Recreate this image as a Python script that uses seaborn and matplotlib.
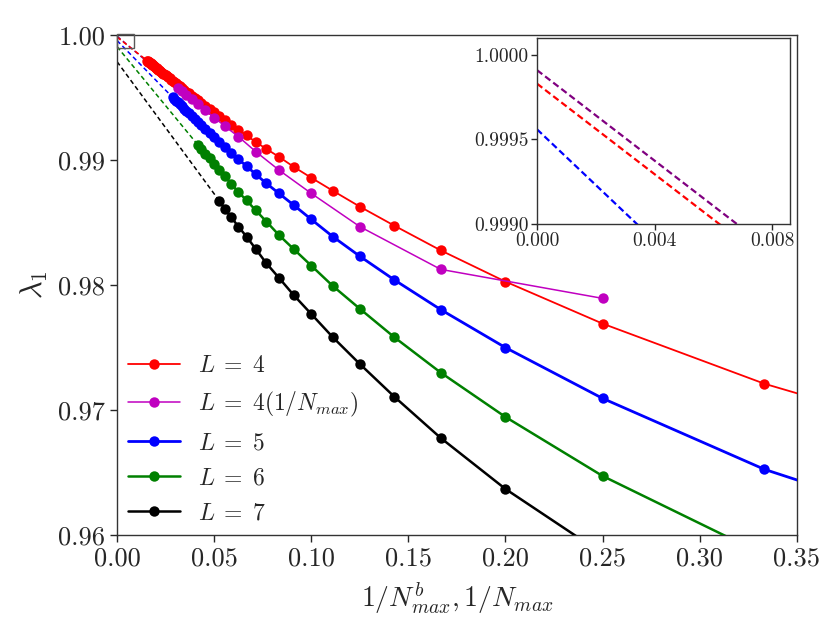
import numpy as np
import matplotlib
matplotlib.use("Agg")
import matplotlib.pyplot as plt
from matplotlib.ticker import FormatStrFormatter
import seaborn as sns

# ---------------- data ----------------
# L = 4 (1/N^b_max), N_max = 2 .. 64
N_L4 = list(range(2, 65))
lam_L4 = [0.9645, 0.97210, 0.97691, 0.98027, 0.98277, 0.98474, 0.98627, 0.98754,
          0.98858, 0.98946, 0.99026, 0.99088, 0.99144, 0.99197, 0.99243, 0.99283,
          0.99319, 0.99352, 0.99382, 0.99409, 0.99434, 0.99457, 0.99478, 0.99498,
          0.99516, 0.99533, 0.99548, 0.99563, 0.99577, 0.99590, 0.99602, 0.99613,
          0.99624, 0.99634, 0.99644, 0.99653, 0.99662, 0.99670, 0.99678, 0.99685,
          0.99692, 0.99699, 0.99706, 0.99712, 0.99718, 0.99724, 0.99729, 0.99735,
          0.99740, 0.99745, 0.99749, 0.99754, 0.99758, 0.99762, 0.99766, 0.99770,
          0.99774, 0.99778, 0.99781, 0.99785, 0.99788, 0.99791, 0.99794]
# L = 4 (1/N_max), even N_max = 4 .. 32
N_L4b = list(range(4, 33, 2))
lam_L4b = [0.97893, 0.98125, 0.98467, 0.98733, 0.98920, 0.99067, 0.99187, 0.99270,
           0.99340, 0.99398, 0.99446, 0.99487, 0.99522, 0.99553, 0.99580]
# L = 5, N_max = 2 .. 35
N_L5 = list(range(2, 36))
lam_L5 = [0.9568, 0.96525, 0.97093, 0.97499, 0.97803, 0.98040, 0.98230, 0.98387,
          0.98525, 0.98640, 0.98733, 0.98813, 0.98885, 0.98952, 0.99005, 0.99058,
          0.99104, 0.99146, 0.99184, 0.99218, 0.99249, 0.99278, 0.99305, 0.99330,
          0.99353, 0.99374, 0.99394, 0.99412, 0.99429, 0.99446, 0.99461, 0.99475,
          0.99489, 0.99502]
# L = 6, N_max = 3 .. 24
N_L6 = list(range(3, 25))
lam_L6 = [0.9584, 0.96472, 0.96944, 0.97299, 0.97581, 0.97810, 0.97992, 0.98155,
          0.98288, 0.98400, 0.98507, 0.98597, 0.98677, 0.98744, 0.98808, 0.98872,
          0.98924, 0.98970, 0.99013, 0.99052, 0.99087, 0.99120]
# L = 7, N_max = 3 .. 19
N_L7 = list(range(3, 20))
lam_L7 = [0.9510, 0.9585, 0.96368, 0.96776, 0.97105, 0.97368, 0.97582, 0.97768,
          0.97920, 0.98058, 0.98173, 0.98288, 0.98387, 0.98467, 0.98541, 0.98608,
          0.98674]

labels = [r"$L\;=\;4$", r"$L\;=\;4(1/N_{max})$", r"$L\;=\;5$", r"$L\;=\;6$", r"$L\;=\;7$"]
# extrapolated values at 1/N -> 0 and slopes of the fits (inset)
extrap = [0.99983, 0.99991, 0.99956, 0.99907, 0.99787]
fit_slope = [-0.134, -0.134, -0.165, -0.19, -0.21]

# ---------------- style ----------------
sns.set_theme(style="ticks")
plt.rcParams["font.family"] = ["cmr10", "DejaVu Serif"]
plt.rcParams["mathtext.fontset"] = "cm"
plt.rcParams["axes.unicode_minus"] = False
plt.rcParams["axes.formatter.use_mathtext"] = True

fig = plt.figure(figsize=(8.3, 6.23), dpi=100)
ax = fig.add_axes([0.141, 0.1413, 0.819, 0.8025])

Ns = [N_L4, N_L4b, N_L5, N_L6, N_L7]
lams = [lam_L4, lam_L4b, lam_L5, lam_L6, lam_L7]
colors = ["#ff0000", "#c000c0", "#0000ff", "#008000", "#000000"]
dash_colors = ["#ff0000", "#800080", "#0000ff", "#008000", "#000000"]
lws = [1.3, 1.1, 2.0, 1.8, 1.8]

for i in range(5):
    x = 1.0 / np.array(Ns[i], dtype=float)
    y = np.array(lams[i])
    sns.lineplot(x=x, y=y, ax=ax, color=colors[i], lw=lws[i], marker="o",
                 markersize=7.5, markeredgecolor=colors[i], markeredgewidth=0,
                 label=labels[i], zorder=3 + i)
for i in [1, 0, 2, 3, 4]:
    x = 1.0 / np.array(Ns[i], dtype=float)
    y = np.array(lams[i])
    k = np.argmin(x)
    sns.lineplot(x=[0.0, x[k]], y=[extrap[i], y[k]], ax=ax, color=dash_colors[i],
                 lw=1.1, linestyle=(0, (3, 2)), zorder=2)

ax.set_xlim(0, 0.35)
ax.set_ylim(0.96, 1.00)
ax.set_xticks(np.arange(0, 0.351, 0.05))
ax.set_yticks([0.96, 0.97, 0.98, 0.99, 1.00])
ax.xaxis.set_major_formatter(FormatStrFormatter("%.2f"))
ax.yaxis.set_major_formatter(FormatStrFormatter("%.2f"))
ax.tick_params(labelsize=19, length=5, width=1)
for s in ax.spines.values():
    s.set_color("#333333")
    s.set_linewidth(1.0)
ax.set_xlabel(r"$1/N^b_{max}, 1/N_{max}$", fontsize=20, labelpad=7)
ax.set_ylabel(r"$\lambda_1$", fontsize=22, labelpad=6)

ax.legend(loc="lower left", frameon=False, fontsize=17, handlelength=2.2,
          labelspacing=0.55, borderaxespad=0.05, handletextpad=0.8)

# ---------------- inset ----------------
axins = fig.add_axes([0.647, 0.6404, 0.305, 0.2986])
x_ext = np.array([0.0, 0.0086])
for i in [2, 0, 1]:
    sns.lineplot(x=x_ext, y=extrap[i] + fit_slope[i] * x_ext, ax=axins,
                 color=dash_colors[i], lw=1.6, linestyle=(0, (3, 1.6)))
axins.set_xlim(0, 0.0086)
axins.set_ylim(0.999, 1.0001)
axins.set_xticks([0.0, 0.004, 0.008])
axins.set_yticks([0.999, 0.9995, 1.0])
axins.xaxis.set_major_formatter(FormatStrFormatter("%.3f"))
axins.yaxis.set_major_formatter(FormatStrFormatter("%.4f"))
axins.tick_params(labelsize=14, length=4, width=1, pad=2)
for s in axins.spines.values():
    s.set_color("#333333")
    s.set_linewidth(1.0)
axins.set_xlabel("")
axins.set_ylabel("")

ax.indicate_inset([0.0, 0.999, 0.0086, 0.0011], edgecolor="0.35", alpha=1.0, lw=1.0)

fig.savefig("out.png", dpi=100)
